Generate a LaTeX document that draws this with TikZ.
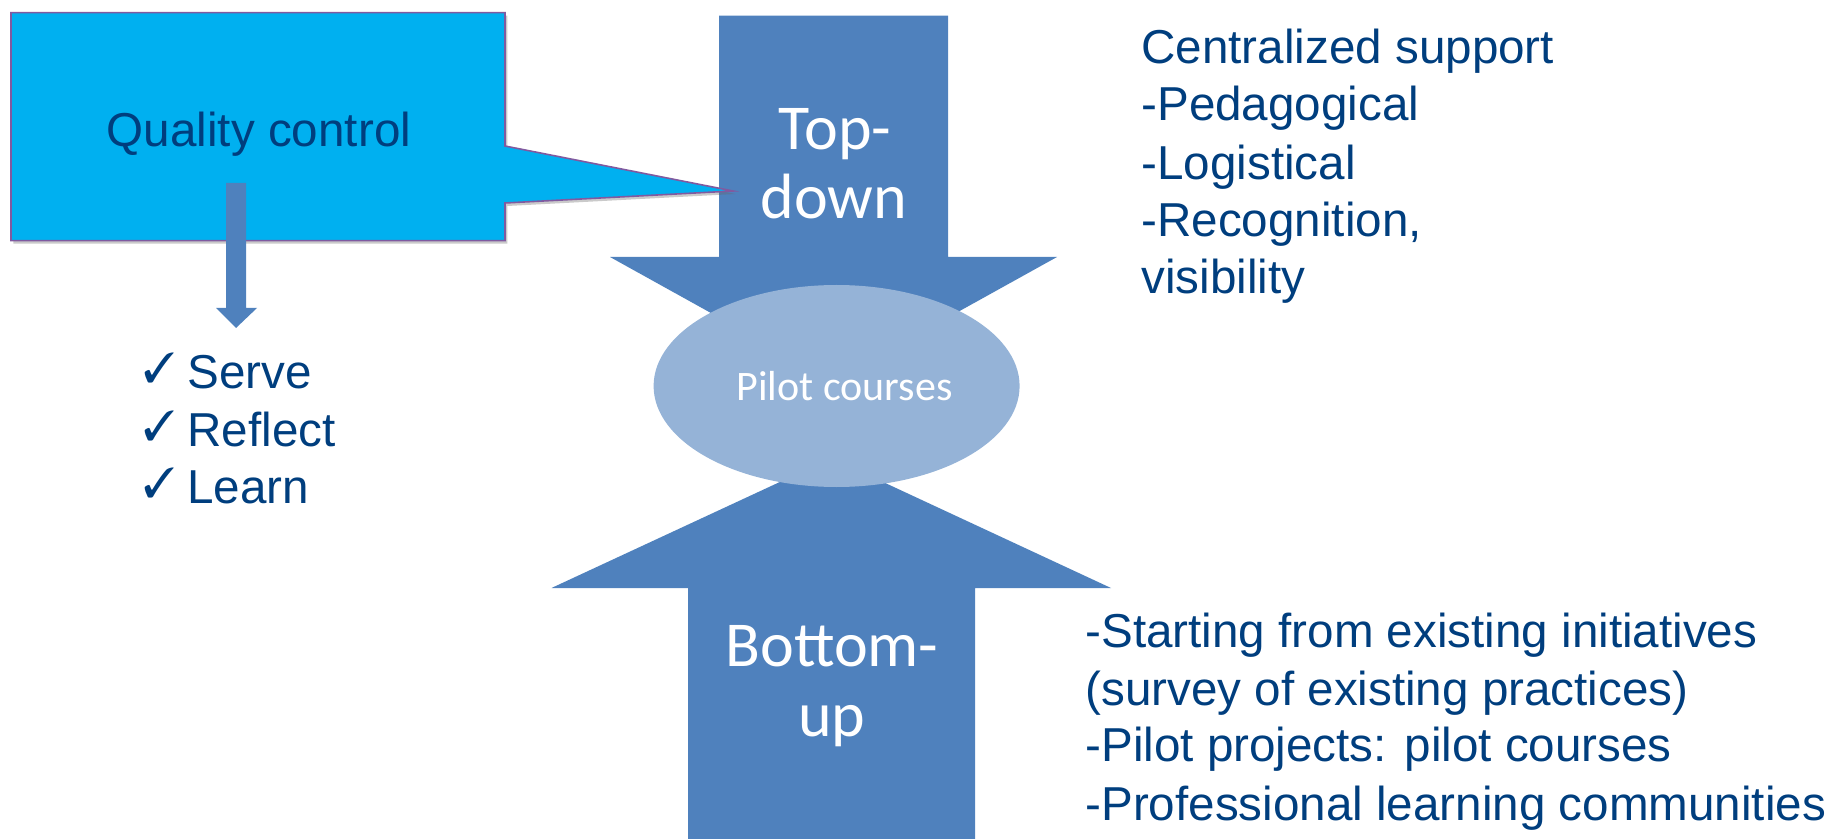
\documentclass[tikz,border=0pt]{standalone}
\usepackage{fontspec}
\usepackage{pifont}
\setmainfont{Liberation Sans}
\newfontfamily\calfont{Carlito}
\usetikzlibrary{shapes.geometric,shadows}
\definecolor{arrowblue}{RGB}{79,129,189}
\definecolor{ellblue}{RGB}{149,179,215}
\definecolor{calloutcyan}{RGB}{0,176,240}
\definecolor{calloutedge}{RGB}{128,90,160}
\definecolor{textblue}{RGB}{0,62,126}
\begin{document}
\begin{tikzpicture}[x=0.5pt,y=-0.5pt,
  bigarrow/.style={fill=arrowblue,draw=none},
  bodytext/.style={text=textblue,font=\fontsize{23.8}{29}\selectfont,inner sep=0pt,anchor=base west},
  arrowtext/.style={text=white,font=\calfont\fontsize{32}{38}\selectfont,inner sep=0pt,anchor=base},
  checkmark/.style={text=textblue,font=\fontsize{21}{24}\selectfont,inner sep=0pt,anchor=base west},
  calloutbox/.style={fill=calloutcyan,draw=calloutedge,line width=0.8pt,
     drop shadow={shadow xshift=1.2pt,shadow yshift=-1.5pt,opacity=0.35,fill=black!60}},
  pilotell/.style={ellipse,fill=ellblue,draw=none,minimum width=183pt,minimum height=101pt,inner sep=0pt,
     text=white,font=\calfont\fontsize{21}{25}\selectfont}]
\useasboundingbox (0,0) rectangle (1835,839);

% big arrows
\fill[bigarrow] (719,15.7) -- (948,15.7) -- (948,257) -- (1057,257) -- (833.5,381)
   -- (610,257) -- (719,257) -- cycle;
\fill[bigarrow] (688,839) -- (688,588) -- (551.5,588) -- (831.5,458) -- (1111,588)
   -- (975,588) -- (975,839) -- cycle;

% callout
\path[calloutbox] (11,12.7) -- (505,12.7) -- (505,146) -- (733,191) -- (505,203)
   -- (505,240.7) -- (11,240.7) -- cycle;
\node[bodytext,anchor=base] (qc) at (259,147) {Quality control};

% small arrow
\fill[bigarrow] (226,183) -- (246,183) -- (246,308) -- (257,308) -- (236,328)
   -- (216,308) -- (226,308) -- cycle;

% ellipse
\node[pilotell] (pilot) at (836.6,386) {\hspace*{8pt}Pilot courses};

% arrow texts
\node[arrowtext] (top1) at (835,150) {Top-};
\node[arrowtext] (top2) at (834,218.3) {down};
\node[arrowtext] (bot1) at (832,666.7) {Bottom-};
\node[arrowtext] (bot2) at (832,736.7) {up};

% checklist
\node[checkmark] (c1) at (143,382) {\ding{51}};
\node[checkmark] (c2) at (143,440.5) {\ding{51}};
\node[checkmark] (c3) at (143,497) {\ding{51}};
\node[bodytext] (serve) at (187,388.3) {Serve};
\node[bodytext] (reflect) at (187,446.7) {Reflect};
\node[bodytext] (learn) at (187,503.3) {Learn};

% right top text
\node[bodytext] (r1) at (1141,64) {Centralized support};
\node[bodytext] (r2) at (1141,120.7) {-Pedagogical};
\node[bodytext] (r3) at (1141,179.5) {-Logistical};
\node[bodytext] (r4) at (1141,236.7) {-Recognition,};
\node[bodytext] (r5) at (1141,294) {visibility};

% right bottom text
\node[bodytext] (b1) at (1085,647.3) {-Starting from existing initiatives};
\node[bodytext] (b2) at (1085,705.7) {(survey of existing practices)};
\node[bodytext] (b3) at (1085,761.7) {-Pilot projects: pilot courses};
\node[bodytext] (b4) at (1085,820) {-Professional learning communities};
\end{tikzpicture}
\end{document}
